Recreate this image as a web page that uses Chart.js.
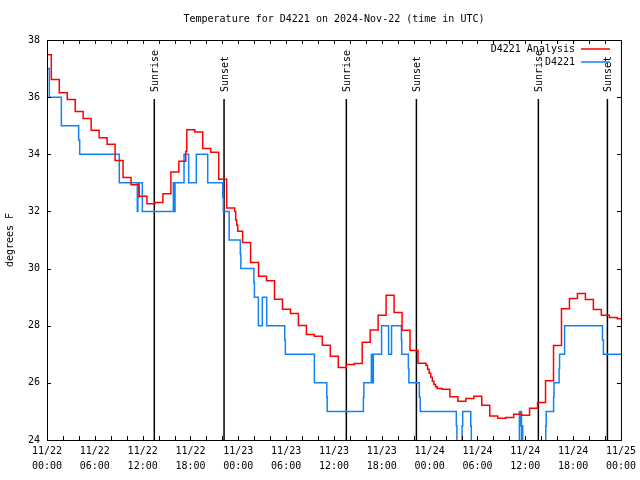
<!DOCTYPE html>
<html>
<head>
<meta charset="utf-8">
<script src="https://cdn.jsdelivr.net/npm/chart.js@4.4.1/dist/chart.umd.min.js"></script>
<style>
  html, body { margin: 0; padding: 0; background: #fff; }
  #wrap { width: 640px; height: 480px; }
</style>
</head>
<body>
<div id="wrap"><canvas id="tempChart" width="640" height="480"></canvas></div>
<script>
const chartTitle = "Temperature for D4221 on 2024-Nov-22 (time in UTC)";
const yTitle = "degrees F";

// hours since 11/22 00:00 UTC
const analysisHours = [
  -0.46, 0.54, 1.54, 2.54, 3.54, 4.54, 5.54, 6.54, 7.54, 8.54, 9.54, 10.54,
  11.54, 12.54, 13.54, 14.54, 15.54, 16.54, 17.4, 17.54, 18.54, 19.54, 20.54, 21.54,
  22.54, 23.54, 23.67, 23.8, 23.93, 24.54, 25.54, 26.54, 27.54, 28.54, 29.54, 30.54,
  31.54, 32.54, 33.54, 34.54, 35.54, 36.54, 37.54, 38.54, 39.54, 40.54, 41.54, 42.54,
  43.54, 44.54, 45.54, 46.54, 47.54, 47.74, 47.94, 48.14, 48.34, 48.54, 48.74, 48.94,
  49.54, 50.54, 51.54, 52.54, 53.54, 54.54, 55.54, 56.54, 57.54, 58.54, 59.54, 60.54,
  61.54, 62.54, 63.54, 64.54, 65.54, 66.54, 67.54, 68.54, 69.54, 70.54, 71.54, 72.5
];
const analysisTemps = [
  37.48, 36.62, 36.15, 35.92, 35.50, 35.25, 34.84, 34.58, 34.35, 33.78, 33.19, 32.93,
  32.53, 32.27, 32.31, 32.62, 33.38, 33.76, 34.1, 34.86, 34.78, 34.20, 34.07, 33.13,
  32.12, 32.0, 31.7, 31.52, 31.31, 30.91, 30.21, 29.73, 29.57, 28.93, 28.58, 28.43,
  28.01, 27.69, 27.63, 27.32, 26.93, 26.54, 26.64, 26.68, 27.42, 27.85, 28.37, 29.07,
  28.46, 27.84, 27.13, 26.69, 26.62, 26.48, 26.34, 26.2, 26.06, 25.94, 25.86, 25.80,
  25.78, 25.51, 25.36, 25.45, 25.53, 25.22, 24.84, 24.76, 24.79, 24.90, 24.87, 25.11,
  25.31, 26.07, 27.31, 28.59, 28.95, 29.13, 28.92, 28.57, 28.37, 28.29, 28.24, 28.24
];

const obsHours = [
  0, 0.29, 1.8, 3.97, 4.1, 9.07, 11.33, 11.4, 11.5, 11.55, 11.96, 15.85,
  15.9, 15.95, 16.0, 16.06, 17.19, 17.77, 18.73, 20.16, 22.05, 22.12, 22.85, 24.25,
  24.32, 25.95, 26.02, 26.52, 27.01, 27.56, 29.82, 29.9, 33.54, 35.1, 35.15, 39.69,
  39.75, 40.69, 40.75, 40.82, 40.87, 40.94, 41.97, 42.85, 43.22, 44.46, 44.5, 45.33,
  45.4, 46.71, 46.82, 51.35, 51.42, 52.07, 52.15, 53.16, 53.23, 59.26, 59.38, 59.45,
  59.52, 59.56, 59.6, 59.64, 59.68, 62.57, 62.62, 63.55, 63.6, 64.24, 64.3, 64.93,
  69.68, 69.8, 72.5
];
const obsTemps = [
  37, 36, 35, 34.5, 34, 33, 32, 33, 32.5, 33, 32, 33,
  32, 33, 32, 33, 34, 33, 34, 33, 32.5, 32, 31, 30.5,
  30, 29.5, 29, 28, 29, 28, 27.5, 27, 26, 25.5, 25, 25.5,
  26, 27, 26, 27, 26, 27, 28, 27, 28, 27.5, 27, 26.5,
  26, 25.5, 25, 24.5, 23, 24.5, 25, 24.5, 23, 25, 24.5, 25,
  23, 24.5, 23, 24.5, 23, 24.5, 25, 25.5, 26, 26.5, 27, 28,
  27.5, 27, 27
];

const xTickDates = ["11/22", "11/22", "11/22", "11/22", "11/23", "11/23", "11/23",
  "11/23", "11/24", "11/24", "11/24", "11/24", "11/25"];
const xTickTimes = ["00:00", "06:00", "12:00", "18:00", "00:00", "06:00", "12:00",
  "18:00", "00:00", "06:00", "12:00", "18:00", "00:00"];

const sunHours = [13.46, 22.21, 37.55, 46.34, 61.64, 70.3];
const sunLabels = ["Sunrise", "Sunset", "Sunrise", "Sunset", "Sunrise", "Sunset"];

const FONT = "10px 'DejaVu Sans Mono', 'Liberation Mono', monospace";
const RED = "#ff0000";
const BLUE = "rgb(20,130,240)";

// gnuplot style frame: sun lines, inward ticks, border, title, legend
const gnuplotFrame = {
  id: "gnuplotFrame",
  beforeDatasetsDraw(chart) {
    const { ctx, chartArea: a, scales: { x } } = chart;
    ctx.save();
    ctx.strokeStyle = "#000";
    ctx.lineWidth = 1.5;
    ctx.fillStyle = "#000";
    ctx.font = FONT;
    sunHours.forEach((h, i) => {
      const px = x.getPixelForValue(h);
      ctx.beginPath();
      ctx.moveTo(px, 99);
      ctx.lineTo(px, a.bottom);
      ctx.stroke();
      ctx.save();
      ctx.translate(px + 1, 92);
      ctx.rotate(-Math.PI / 2);
      ctx.textAlign = "left";
      ctx.textBaseline = "middle";
      ctx.fillText(sunLabels[i], 0, 0);
      ctx.restore();
    });
    ctx.restore();
  },
  afterDatasetsDraw(chart) {
    const { ctx, chartArea: a, scales: { x, y } } = chart;
    ctx.save();
    ctx.strokeStyle = "#000";
    ctx.lineWidth = 1;
    ctx.strokeRect(a.left + 0.5, a.top + 0.5, a.right - a.left, a.bottom - a.top);

    ctx.beginPath();
    for (let h = 0; h <= 72; h += 2) {
      const px = Math.round(x.getPixelForValue(h)) + 0.5;
      ctx.moveTo(px, a.bottom); ctx.lineTo(px, a.bottom - 4);
      ctx.moveTo(px, a.top); ctx.lineTo(px, a.top + 4);
    }
    for (let v = 24; v <= 38; v += 2) {
      const py = Math.round(y.getPixelForValue(v)) + 0.5;
      ctx.moveTo(a.left, py); ctx.lineTo(a.left + 4, py);
      ctx.moveTo(a.right, py); ctx.lineTo(a.right - 4, py);
    }
    ctx.stroke();

    ctx.fillStyle = "#000";
    ctx.font = FONT;
    ctx.textBaseline = "middle";
    ctx.textAlign = "center";
    ctx.fillText(chartTitle, (a.left + a.right) / 2, 19);

    // legend
    const legend = [
      { label: "D4221 Analysis", color: RED, y: 49 },
      { label: "D4221", color: BLUE, y: 62 }
    ];
    ctx.textAlign = "right";
    legend.forEach(item => {
      ctx.fillStyle = "#000";
      ctx.fillText(item.label, 575, item.y);
      ctx.strokeStyle = item.color;
      ctx.lineWidth = 1.5;
      ctx.beginPath();
      ctx.moveTo(581, item.y);
      ctx.lineTo(610, item.y);
      ctx.stroke();
    });
    ctx.restore();
  }
};

const ctx = document.getElementById("tempChart").getContext("2d");
new Chart(ctx, {
  type: "line",
  data: {
    datasets: [
      {
        label: "D4221 Analysis",
        data: analysisHours.map((h, i) => ({ x: h, y: analysisTemps[i] })),
        borderColor: RED,
        borderWidth: 1.5,
        pointRadius: 0,
        stepped: "before",
        fill: false
      },
      {
        label: "D4221",
        data: obsHours.map((h, i) => ({ x: h, y: obsTemps[i] })),
        borderColor: BLUE,
        borderWidth: 1.5,
        pointRadius: 0,
        stepped: "before",
        fill: false
      }
    ]
  },
  options: {
    responsive: false,
    animation: false,
    events: [],
    layout: { padding: { top: 40, right: 19, left: 0, bottom: 0 } },
    plugins: {
      legend: { display: false },
      title: { display: false },
      tooltip: { enabled: false }
    },
    scales: {
      x: {
        type: "linear",
        min: 0,
        max: 72,
        grid: { display: false, drawTicks: false },
        border: { display: false },
        ticks: {
          stepSize: 6,
          autoSkip: false,
          maxRotation: 0,
          padding: 4,
          color: "#000",
          font: { family: "'DejaVu Sans Mono', 'Liberation Mono', monospace", size: 10, lineHeight: 1.5 },
          callback: v => {
            const i = Math.round(v / 6);
            return [xTickDates[i], xTickTimes[i]];
          }
        },
        afterFit: s => { s.height = 40; }
      },
      y: {
        min: 24,
        max: 38,
        grid: { display: false, drawTicks: false },
        border: { display: false },
        ticks: {
          stepSize: 2,
          padding: 7,
          color: "#000",
          font: { family: "'DejaVu Sans Mono', 'Liberation Mono', monospace", size: 10 }
        },
        title: {
          display: true,
          text: yTitle,
          color: "#000",
          padding: { top: 4, bottom: 0 },
          font: { family: "'DejaVu Sans Mono', 'Liberation Mono', monospace", size: 10 }
        },
        afterFit: s => { s.width = 47; }
      }
    }
  },
  plugins: [gnuplotFrame]
});
</script>
</body>
</html>
